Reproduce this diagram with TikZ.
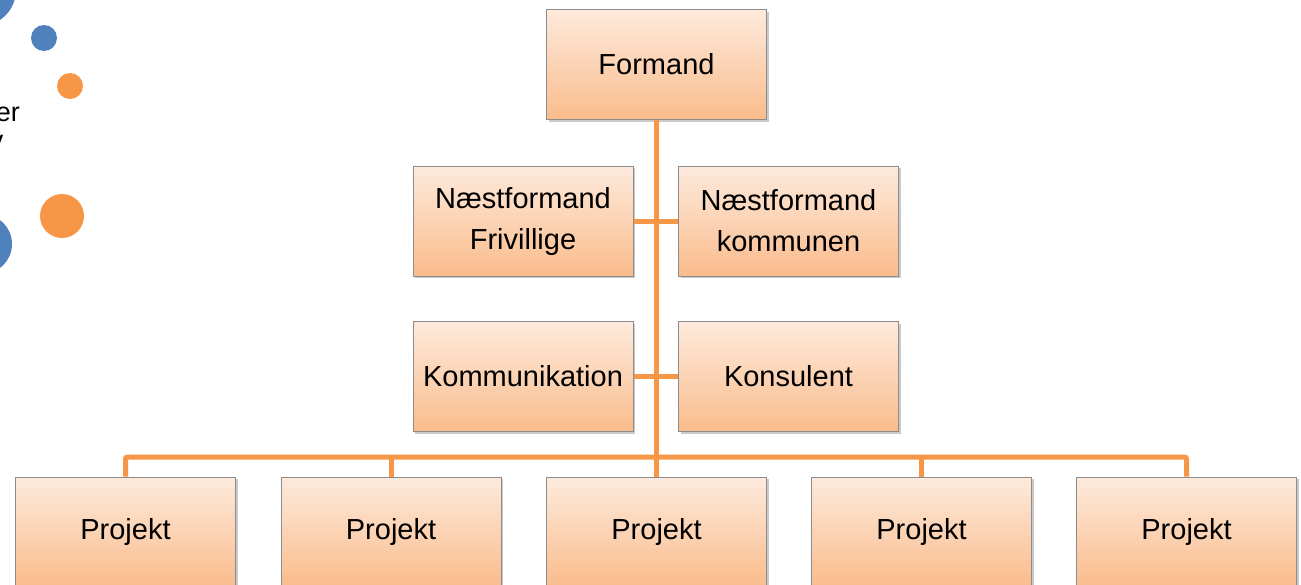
\documentclass[tikz,border=0pt]{standalone}
\usepackage{fontspec}
\setmainfont{Liberation Sans}
\usetikzlibrary{shadows}
\definecolor{linkorange}{RGB}{247,150,70}
\definecolor{dotblue}{RGB}{79,129,189}
\definecolor{dotorange}{RGB}{247,150,70}
\definecolor{boxtop}{RGB}{253,234,220}
\definecolor{boxbot}{RGB}{250,188,140}
\definecolor{boxedge}{RGB}{140,140,140}
\tikzset{
  orgbox/.style={draw=boxedge, line width=1pt, top color=boxtop, bottom color=boxbot,
    minimum width=220pt, minimum height=110pt, inner sep=0pt, align=center,
    font=\fontsize{29}{41}\selectfont,
    drop shadow={shadow xshift=2pt, shadow yshift=-2pt, opacity=0.35, fill=black!60}},
  conn/.style={draw=linkorange, line width=5pt},
  sidetext/.style={anchor=base east, inner sep=0pt, font=\fontsize{27}{30}\selectfont}
}
\begin{document}
\begin{tikzpicture}[x=1pt,y=-1pt]
\useasboundingbox (0,0) rectangle (1301,584);
% decorative dots
\fill[dotblue] (-20,-10) circle[radius=36pt];
\fill[dotblue] (44,38) circle[radius=13pt];
\fill[dotorange] (70,86) circle[radius=13pt];
\fill[dotorange] (62,216) circle[radius=22pt];
\fill[dotblue] (-18,244) circle[radius=30pt];
\node[sidetext] (t1) at (20,121) {er};
\node[sidetext] (t2) at (3.5,149) {v};
% boxes
\node[orgbox] (formand) at (656.5,64.5) {Formand};
\node[orgbox] (nf) at (523,221) {Næstformand\\Frivillige};
\node[orgbox] (nk) at (788.5,221) {Næstformand\\kommunen};
\node[orgbox] (komm) at (523,376.5) {Kommunikation};
\node[orgbox] (kons) at (788.5,376.5) {Konsulent};
\node[orgbox] (p1) at (125.5,532) {Projekt};
\node[orgbox] (p2) at (391,532) {Projekt};
\node[orgbox] (p3) at (656.5,532) {Projekt};
\node[orgbox] (p4) at (921.5,532) {Projekt};
\node[orgbox] (p5) at (1186.5,532) {Projekt};
\coordinate (bus) at (656.5,457);
% connectors
\draw[conn] (formand.south) -- (p3.north);
\draw[conn] (nf.east) -- (nk.west);
\draw[conn] (komm.east) -- (kons.west);
\draw[conn, rounded corners=2pt] (p1.north) |- (bus) -| (p5.north);
\draw[conn] (p2.north) -- (p2.north |- bus);
\draw[conn] (p4.north) -- (p4.north |- bus);
\end{tikzpicture}
\end{document}
